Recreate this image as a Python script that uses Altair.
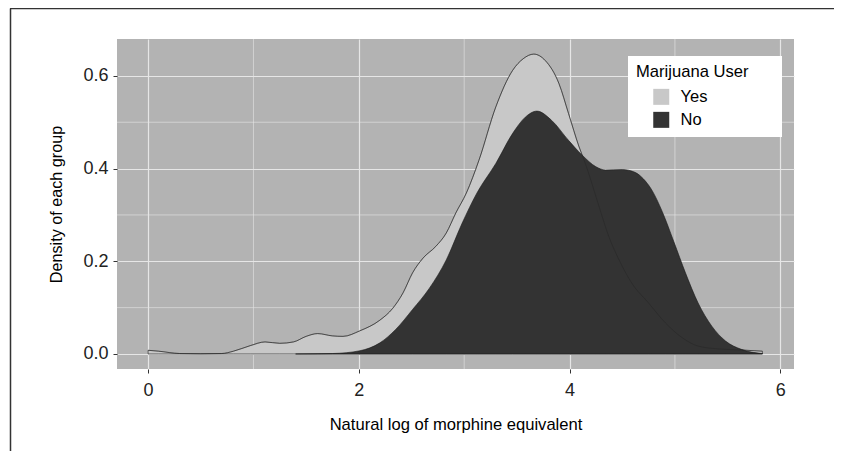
import altair as alt
import pandas as pd

# ---- data ----
groups = ["Yes", "No"]
group_colors = ["#c8c8c8", "#333333"]

yes_x = [0.00, 0.10, 0.30, 0.50, 0.70, 0.81, 0.97, 1.11, 1.25, 1.38, 1.50, 1.61, 1.75,
         1.85, 2.01, 2.20, 2.32, 2.42, 2.51, 2.61, 2.73, 2.83, 2.92, 3.02, 3.14, 3.30,
         3.46, 3.56, 3.66, 3.77, 3.90, 3.99, 4.09, 4.15, 4.28, 4.37, 4.47, 4.59, 4.75,
         4.91, 5.07, 5.22, 5.41, 5.60, 5.83]
yes_y = [0.008, 0.006, 0.001, 0.0005, 0.001, 0.006, 0.018, 0.026, 0.023, 0.026, 0.038,
         0.044, 0.039, 0.038, 0.050, 0.073, 0.098, 0.132, 0.175, 0.207, 0.232, 0.261,
         0.304, 0.347, 0.418, 0.533, 0.612, 0.637, 0.647, 0.633, 0.583, 0.519, 0.447,
         0.411, 0.318, 0.255, 0.203, 0.153, 0.110, 0.067, 0.035, 0.017, 0.011, 0.009,
         0.006]

no_x = [1.40, 1.75, 2.01, 2.20, 2.35, 2.51, 2.67, 2.83, 2.98, 3.12, 3.30, 3.46, 3.58,
        3.69, 3.83, 3.99, 4.12, 4.25, 4.34, 4.50, 4.62, 4.70, 4.78, 4.88, 4.99, 5.10,
        5.22, 5.35, 5.48, 5.63, 5.83]
no_y = [0.000, 0.001, 0.007, 0.024, 0.053, 0.096, 0.142, 0.203, 0.282, 0.347, 0.411,
        0.476, 0.511, 0.524, 0.504, 0.461, 0.429, 0.404, 0.397, 0.398, 0.392, 0.378,
        0.354, 0.307, 0.242, 0.175, 0.110, 0.060, 0.028, 0.010, 0.001]

x_ticks = [0, 2, 4, 6]
y_ticks = [0.0, 0.2, 0.4, 0.6]
x_minor = [1, 3, 5]
y_minor = [0.1, 0.3, 0.5]

x_title = "Natural log of morphine equivalent"
y_title = "Density of each group"
legend_title = "Marijuana User"

# ---- tables ----
yes_df = pd.DataFrame({"x": yes_x, "y": yes_y, "user": "Yes"})
no_df = pd.DataFrame({"x": no_x, "y": no_y, "user": "No"})

FONT = "Liberation Sans"
GRID = "#e6e6e6"

xscale = alt.Scale(domain=[-0.295, 6.13], nice=False, zero=False)
yscale = alt.Scale(domain=[-0.0324, 0.6796], nice=False, zero=False)

x_axis = alt.Axis(values=x_ticks, title=x_title, grid=True, gridColor=GRID, gridWidth=1.2,
                  domain=False, ticks=True, tickColor="#333333", tickSize=4, tickWidth=1,
                  labelFont=FONT, labelFontSize=18, labelColor="#222222", labelPadding=8,
                  titleFont=FONT, titleFontSize=16.6, titleFontWeight="normal",
                  titleColor="black", titlePadding=17)
y_axis = alt.Axis(values=y_ticks, format=".1f", title=y_title, grid=True, gridColor=GRID,
                  gridWidth=1.2, domain=False, ticks=True, tickColor="#333333", tickSize=4,
                  tickWidth=1, labelFont=FONT, labelFontSize=18, labelColor="#222222",
                  labelPadding=5, titleFont=FONT, titleFontSize=16.2,
                  titleFontWeight="normal", titleColor="black", titlePadding=18)

legend = alt.Legend(title=legend_title, orient="none", legendX=511, legendY=17,
                    fillColor="white", padding=8, titleFont=FONT, titleFontSize=16.6,
                    titleFontWeight="normal", titleColor="black", titlePadding=8,
                    labelFont=FONT, labelFontSize=16.5, labelColor="black",
                    symbolType="square", symbolSize=256, symbolStrokeWidth=0,
                    symbolOffset=17, labelOffset=11, rowPadding=6, symbolOpacity=1)

color = alt.Color("user:N", scale=alt.Scale(domain=groups, range=group_colors),
                  legend=legend)

X = alt.X("x:Q", scale=xscale, axis=x_axis)
Y = alt.Y("y:Q", scale=yscale, axis=y_axis)

minor_x = alt.Chart(pd.DataFrame({"x": x_minor})).mark_rule(
    color=GRID, strokeWidth=0.6).encode(x=X)
minor_y = alt.Chart(pd.DataFrame({"y": y_minor})).mark_rule(
    color=GRID, strokeWidth=0.6).encode(y=Y)

yes_area = alt.Chart(yes_df).mark_area(
    stroke="#1a1a1a", strokeWidth=0.6, interpolate="monotone", fillOpacity=1
).encode(x=X, y=Y, y2=alt.datum(0), color=color)

no_area = alt.Chart(no_df).mark_area(
    stroke="#1a1a1a", strokeWidth=0.6, interpolate="monotone", fillOpacity=1
).encode(x=X, y=Y, y2=alt.datum(0), color=color)

# faint outline of the "Yes" curve seen through the dark area
yes_trace = alt.Chart(yes_df).mark_line(
    color="#1a1a1a", strokeWidth=0.8, interpolate="monotone", opacity=0.35
).encode(x=X, y=Y)

frame_df = pd.DataFrame({"a": [0]})
# white legend background box (wider than the legend's own content)
legend_box = alt.Chart(frame_df).mark_rect(color="white").encode(
    x=alt.value(511), x2=alt.value(665), y=alt.value(17), y2=alt.value(98))
top_line = alt.Chart(frame_df).mark_rule(color="#333333", strokeWidth=1.5).encode(
    x=alt.value(-107), x2=alt.value(740), y=alt.value(-30.5))
left_line = alt.Chart(frame_df).mark_rule(color="#333333", strokeWidth=1.5).encode(
    x=alt.value(-106.5), y=alt.value(-30.5), y2=alt.value(430))

chart = alt.layer(minor_x, minor_y, yes_area, no_area, yes_trace, legend_box, top_line,
                  left_line).properties(
    width=677, height=330, autosize="none",
    padding={"left": 109, "top": 31, "right": 40, "bottom": 82},
    background="white",
).configure_view(fill="#b3b3b3", stroke=None)

chart.save("out.html", embed_options={"renderer": "svg", "actions": False})
